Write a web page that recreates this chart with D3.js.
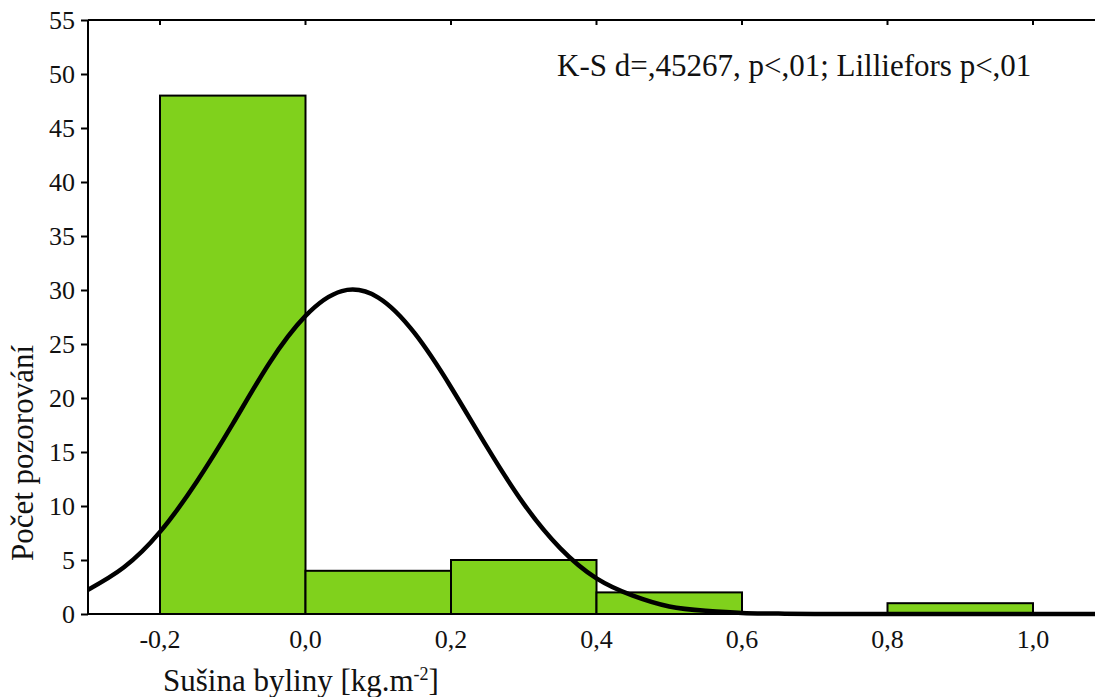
<!DOCTYPE html>
<html>
<head>
<meta charset="utf-8">
<script src="https://cdn.jsdelivr.net/npm/d3@7"></script>
<style>
  body { margin: 0; background: #fff; }
  svg text { font-family: "Liberation Serif", "DejaVu Serif", serif; fill: #111; }
</style>
</head>
<body>
<svg id="svg-hist" width="1095" height="697"></svg>
<script>
var svg = d3.select("#svg-hist");

// Data
var binStart = [-0.2, 0.0, 0.2, 0.4, 0.6, 0.8];
var binEnd   = [0.0, 0.2, 0.4, 0.6, 0.8, 1.0];
var counts   = [48, 4, 5, 2, 0, 1];

// expected normal curve, read point by point
var curveX = [-0.30, -0.25, -0.20, -0.15, -0.10, -0.05, 0.00, 0.05, 0.10, 0.15, 0.20, 0.25,
              0.30, 0.35, 0.40, 0.45, 0.50, 0.55, 0.60, 0.65, 0.70, 0.80, 0.90, 1.00, 1.10];
var curveY = [2.2, 4.3, 7.6, 12.2, 17.6, 23.2, 27.6, 29.9, 29.3, 26.0, 21.0, 15.4,
              10.2, 6.1, 3.3, 1.7, 0.7, 0.3, 0.1, 0.04, 0.01, 0, 0, 0, 0];

var xTicks = [-0.2, 0.0, 0.2, 0.4, 0.6, 0.8, 1.0];
var yTicks = [0, 5, 10, 15, 20, 25, 30, 35, 40, 45, 50, 55];

var title = "K-S d=,45267, p<,01; Lilliefors p<,01";
var xLabel = "Sušina byliny [kg.m";
var yLabel = "Počet pozorování";

// Dimensions
var dim = { left: 88, top: 20, bottom: 614, right: 1095 };
var barColor = "#80d11c";

var xScale = d3.scaleLinear().domain([-0.2, 1.0]).range([160, 1033]);
var yScale = d3.scaleLinear().domain([0, 55]).range([dim.bottom, dim.top]);
var fmt = function(d) { return d.toFixed(1).replace(".", ","); };

svg.append("clipPath").attr("id", "plot-clip")
   .append("rect")
   .attr("x", dim.left).attr("y", dim.top)
   .attr("width", dim.right - dim.left).attr("height", dim.bottom - dim.top + 3);

// Bars
svg.append("g").selectAll("rect")
   .data(counts)
   .enter()
   .append("rect")
   .attr("x", function(d, i) { return xScale(binStart[i]); })
   .attr("width", function(d, i) { return xScale(binEnd[i]) - xScale(binStart[i]); })
   .attr("y", function(d) { return yScale(d); })
   .attr("height", function(d) { return yScale(0) - yScale(d); })
   .attr("fill", barColor)
   .attr("stroke", function(d) { return d > 0 ? "#000" : "none"; })
   .attr("stroke-width", 2);

// Frame lines
svg.append("line")
   .attr("x1", dim.left).attr("x2", dim.right)
   .attr("y1", dim.top).attr("y2", dim.top)
   .attr("stroke", "#000").attr("stroke-width", 2);
svg.append("line")
   .attr("x1", dim.left).attr("x2", dim.right)
   .attr("y1", dim.bottom).attr("y2", dim.bottom)
   .attr("stroke", "#000").attr("stroke-width", 2);

// Top ticks (inward)
svg.append("g").selectAll("line")
   .data(xTicks)
   .enter()
   .append("line")
   .attr("x1", function(d) { return xScale(d); })
   .attr("x2", function(d) { return xScale(d); })
   .attr("y1", dim.top).attr("y2", dim.top + 5)
   .attr("stroke", "#000").attr("stroke-width", 2);

// Y axis
var yAxis = d3.axisLeft(yScale).tickValues(yTicks).tickSize(7).tickPadding(6);
var gy = svg.append("g")
   .attr("transform", "translate(" + dim.left + ",0)")
   .call(yAxis);
gy.select(".domain").attr("stroke-width", 2).attr("d", "M0," + dim.bottom + "V" + dim.top);
gy.selectAll(".tick line").attr("stroke-width", 2);
gy.selectAll(".tick text").style("font-size", "26px").attr("fill", "#111");

// X tick labels
svg.append("g").selectAll("text")
   .data(xTicks)
   .enter()
   .append("text")
   .attr("x", function(d) { return xScale(d); })
   .attr("y", 648)
   .attr("text-anchor", "middle")
   .style("font-size", "26px")
   .text(fmt);

// Normal curve
var line = d3.line()
   .x(function(d, i) { return xScale(curveX[i]); })
   .y(function(d) { return yScale(d); })
   .curve(d3.curveNatural);
svg.append("path")
   .datum(curveY)
   .attr("clip-path", "url(#plot-clip)")
   .attr("d", line)
   .attr("fill", "none")
   .attr("stroke", "#000")
   .attr("stroke-width", 4.5);

// Texts
svg.append("text")
   .attr("x", 557).attr("y", 76)
   .style("font-size", "31px")
   .text(title);

var xt = svg.append("text")
   .attr("x", 163).attr("y", 691)
   .style("font-size", "31px")
   .text(xLabel);
xt.append("tspan").attr("dy", -11).style("font-size", "18px").text("-2");
xt.append("tspan").attr("dy", 11).text("]");

svg.append("text")
   .attr("transform", "translate(33,453) rotate(-90)")
   .attr("text-anchor", "middle")
   .style("font-size", "31px")
   .text(yLabel);
</script>
</body>
</html>
